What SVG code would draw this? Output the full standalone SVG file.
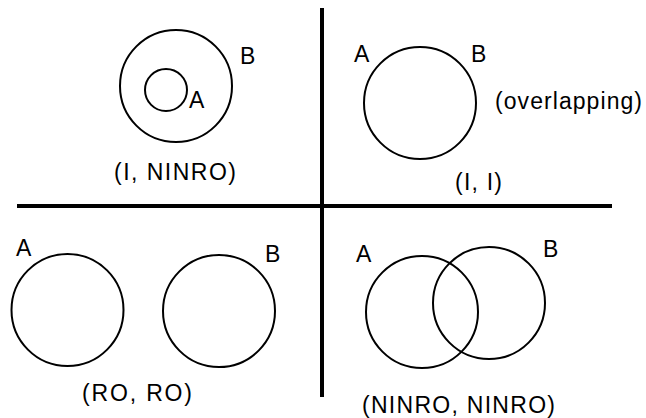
<svg xmlns="http://www.w3.org/2000/svg" width="646" height="418" viewBox="0 0 646 418">
<style>
  .c { fill: none; stroke: #000; stroke-width: 2; }
  .ax { stroke: #000; stroke-width: 4; }
  text { font-family: "Liberation Sans", Arial, sans-serif; font-size: 23px; fill: #000; }
</style>
<rect width="646" height="418" fill="#fff"/>
<g id="axes">
  <line class="ax" x1="322" y1="8" x2="322" y2="397"/>
  <line class="ax" x1="17" y1="206" x2="612" y2="206"/>
</g>
<g id="q1">
  <circle class="c" cx="176" cy="86" r="56"/>
  <circle class="c" cx="166" cy="90" r="21"/>
  <text x="240" y="64">B</text>
  <text x="189" y="108">A</text>
  <text x="114" y="180" textLength="122" lengthAdjust="spacing">(I, NINRO)</text>
</g>
<g id="q2">
  <circle class="c" cx="420" cy="103" r="56"/>
  <text x="354" y="62">A</text>
  <text x="471" y="62">B</text>
  <text x="495" y="109" textLength="147" lengthAdjust="spacing">(overlapping)</text>
  <text x="455" y="190" textLength="47" lengthAdjust="spacing">(I, I)</text>
</g>
<g id="q3">
  <circle class="c" cx="67.5" cy="310" r="56"/>
  <circle class="c" cx="219" cy="311" r="56"/>
  <text x="16" y="256">A</text>
  <text x="265" y="262">B</text>
  <text x="82" y="401" textLength="110" lengthAdjust="spacing">(RO, RO)</text>
</g>
<g id="q4">
  <circle class="c" cx="422" cy="312" r="56"/>
  <circle class="c" cx="489" cy="303" r="56"/>
  <text x="356" y="262">A</text>
  <text x="543" y="257">B</text>
  <text x="362" y="413" textLength="193" lengthAdjust="spacing">(NINRO, NINRO)</text>
</g>
</svg>
